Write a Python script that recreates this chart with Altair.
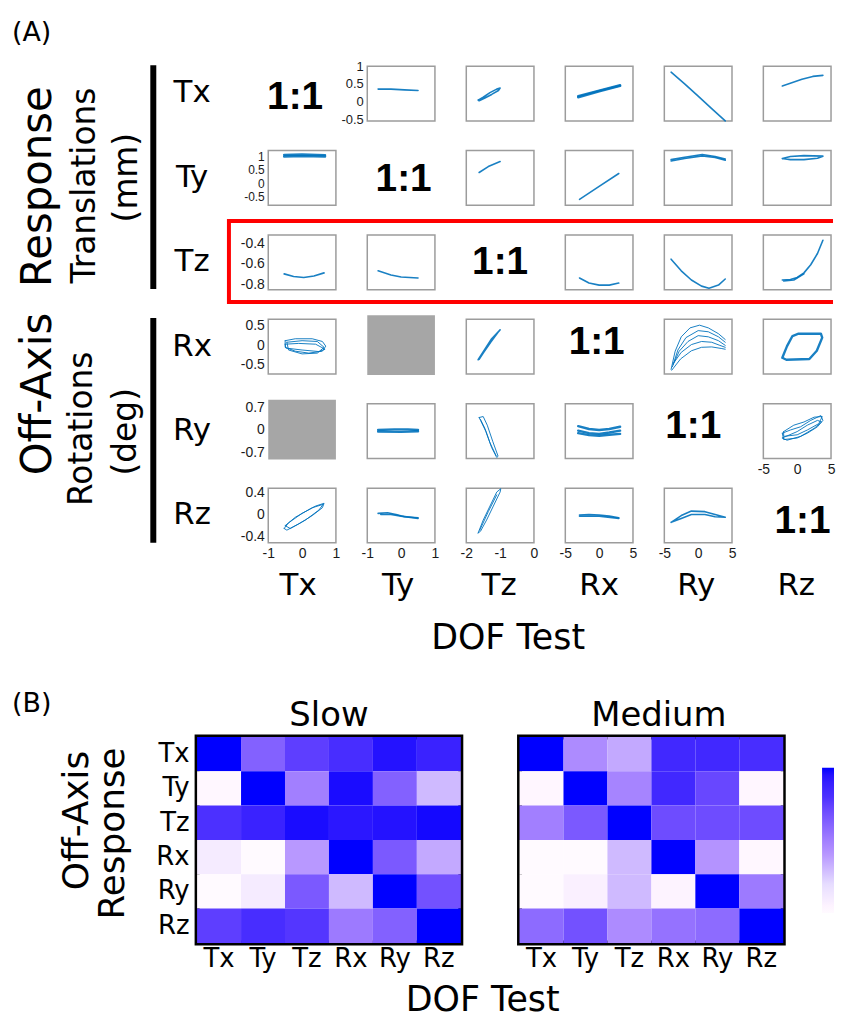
import altair as alt
import pandas as pd

# ---------------- data ----------------
DOFS = ["Tx", "Ty", "Tz", "Rx", "Ry", "Rz"]

X_DOMAINS = {"Tx": [-1, 1], "Ty": [-1, 1], "Tz": [-2, 0], "Rx": [-5, 5], "Ry": [-5, 5], "Rz": [-5, 5]}
X_TICKS = {"Tx": [-1, 0, 1], "Ty": [-1, 0, 1], "Tz": [-2, -1, 0], "Rx": [-5, 0, 5], "Ry": [-5, 0, 5], "Rz": [-5, 0, 5]}
Y_DOMAINS = {"Tx": [-0.55, 1.0], "Ty": [-0.83, 1.22], "Tz": [-0.855, -0.318],
             "Rx": [-0.74, 0.67], "Ry": [-0.89, 0.82], "Rz": [-0.507, 0.47]}
Y_TICKS = {"Tx": [-0.5, 0, 0.5, 1], "Ty": [-0.5, 0, 0.5, 1], "Tz": [-0.8, -0.6, -0.4],
           "Rx": [-0.5, 0, 0.5], "Ry": [-0.7, 0, 0.7], "Rz": [-0.4, 0, 0.4]}

# off-axis response traces (x = DOF test input, y = off-axis response); one list per trace
TX_TY = [[(-0.68, 0.35), (-0.3, 0.35), (0.1, 0.33), (0.5, 0.31)]]
TX_TZ = [[(-1.65, 0.04), (-1.5, 0.12), (-1.3, 0.25), (-1.1, 0.35), (-1.0, 0.38), (-1.05, 0.31),
          (-1.25, 0.2), (-1.45, 0.1), (-1.62, 0.02), (-1.65, 0.04)]]
TX_RX = [[(-3.1, 0.15), (0.0, 0.31), (3.1, 0.46)], [(-3.1, 0.12), (0.0, 0.29), (3.1, 0.44)]]
TX_RY = [[(-4.0, 0.83), (-2.0, 0.5), (0.0, 0.15), (2.0, -0.2), (4.0, -0.55)]]
TX_RZ = [[(-2.2, 0.44), (-0.8, 0.53), (0.7, 0.63), (2.3, 0.71), (3.8, 0.74)]]

TY_TX = [[(-0.53, 1.0), (0.0, 1.01), (0.68, 1.0)], [(-0.53, 1.06), (0.0, 1.07), (0.68, 1.05)]]
TY_TZ = [[(-1.62, 0.40), (-1.35, 0.62), (-1.0, 0.81)]]
TY_RX = [[(-2.9, -0.61), (0.0, -0.12), (2.9, 0.36)]]
TY_RY = [[(-4.0, 0.88), (-2.0, 0.97), (0.6, 1.07), (2.5, 1.0), (4.0, 0.9)],
         [(-4.0, 0.83), (-2.0, 0.92), (0.6, 1.02), (2.5, 0.96), (4.0, 0.86)]]
TY_RZ = [[(-2.2, 0.92), (-1.0, 1.0), (1.0, 1.03), (3.8, 1.01), (3.0, 0.93), (1.0, 0.88),
          (-1.0, 0.88), (-2.2, 0.92)]]

TZ_TX = [[(-0.53, -0.70), (-0.25, -0.725), (0.05, -0.735), (0.35, -0.72), (0.65, -0.69)]]
TZ_TY = [[(-0.68, -0.67), (-0.3, -0.71), (0.0, -0.73), (0.5, -0.74)]]
TZ_RX = [[(-2.9, -0.74), (-1.5, -0.79), (0.0, -0.81), (1.5, -0.81), (2.9, -0.79)]]
TZ_RY = [[(-4.0, -0.556), (-2.5, -0.67), (-1.0, -0.76), (0.5, -0.82), (1.6, -0.84), (3.0, -0.81), (4.0, -0.75)]]
TZ_RZ = [[(-2.2, -0.76), (-1.0, -0.755), (0.0, -0.735), (1.0, -0.69), (2.0, -0.61), (3.0, -0.5), (3.8, -0.37)],
         [(-2.0, -0.77), (-0.5, -0.76), (1.0, -0.70)]]

RX_TX = [[(-0.5, 0.12), (-0.2, 0.17), (0.3, 0.17), (0.6, 0.1), (0.7, -0.02), (0.6, -0.15), (0.2, -0.2),
          (-0.2, -0.15), (-0.5, -0.05), (-0.5, 0.12)],
         [(-0.45, 0.08), (0.0, 0.12), (0.45, 0.1), (0.65, -0.05), (0.45, -0.2), (0.0, -0.22), (-0.4, -0.12),
          (-0.45, 0.08)],
         [(-0.5, 0.03), (-0.1, 0.05), (0.4, 0.03), (0.68, -0.1), (0.5, -0.16), (0.0, -0.12), (-0.48, -0.07),
          (-0.5, 0.03)]]
RX_TZ = [[(-1.65, -0.37), (-1.45, -0.1), (-1.25, 0.17), (-1.0, 0.40), (-1.04, 0.36), (-1.28, 0.08),
          (-1.5, -0.2), (-1.62, -0.36), (-1.65, -0.37)]]
RX_RY = [[(-4.0, -0.62), (-3.4, -0.15), (-2.5, 0.22), (-1.2, 0.45), (0.2, 0.52), (1.5, 0.45), (3.0, 0.3), (4.0, 0.15)],
         [(-3.8, -0.55), (-3.0, -0.12), (-1.8, 0.2), (0.0, 0.38), (1.5, 0.35), (3.0, 0.22), (4.0, 0.08)],
         [(-3.7, -0.5), (-2.8, -0.15), (-1.5, 0.1), (0.0, 0.25), (1.5, 0.22), (3.0, 0.12), (4.0, 0.0)],
         [(-3.6, -0.45), (-2.5, -0.18), (-1.0, 0.02), (0.5, 0.1), (2.0, 0.08), (3.2, 0.0), (4.0, -0.05)],
         [(-3.9, -0.64), (-2.6, -0.35), (-1.0, -0.14), (0.5, -0.05), (2.0, -0.04), (3.4, -0.08), (4.0, -0.1)]]
RX_RZ = [[(-2.2, -0.32), (-1.5, -0.02), (-0.7, 0.24), (0.2, 0.3), (3.5, 0.3), (3.7, 0.2), (2.9, -0.14),
          (1.8, -0.35), (-1.6, -0.37), (-2.2, -0.32)]]

RY_TY = [[(-0.68, 0.0), (-0.2, 0.02), (0.2, 0.02), (0.5, 0.0)], [(-0.68, -0.05), (0.0, -0.06), (0.5, -0.04)]]
RY_TZ = [[(-1.62, 0.39), (-1.5, 0.42), (-1.38, 0.15), (-1.22, -0.35), (-1.06, -0.82), (-1.1, -0.86),
          (-1.25, -0.55), (-1.42, -0.05), (-1.58, 0.3), (-1.62, 0.39)],
         [(-1.58, 0.33), (-1.45, 0.05), (-1.3, -0.4), (-1.12, -0.8)]]
RY_RX = [[(-3.1, 0.12), (-1.5, 0.03), (0.0, 0.0), (1.5, 0.03), (3.1, 0.1)],
         [(-3.1, -0.02), (-1.5, -0.1), (0.0, -0.12), (1.5, -0.08), (3.1, -0.02)],
         [(-3.1, -0.1), (-1.5, -0.16), (0.0, -0.18), (1.5, -0.15), (3.1, -0.12)]]
RY_RZ = [[(-2.2, -0.1), (-1.0, 0.0), (0.5, 0.1), (2.0, 0.3), (3.5, 0.45), (3.8, 0.3), (3.0, 0.1), (1.5, -0.1),
          (0.0, -0.25), (-2.0, -0.3), (-2.2, -0.1)],
         [(-2.0, -0.05), (-0.5, 0.15), (1.0, 0.25), (2.5, 0.4), (3.7, 0.42), (3.2, 0.2), (1.5, 0.0), (0.0, -0.15),
          (-2.0, -0.2), (-2.0, -0.05)],
         [(-2.2, -0.25), (0.0, -0.05), (1.5, 0.15), (3.0, 0.3), (3.6, 0.25), (2.5, 0.05), (0.5, -0.2),
          (-1.5, -0.32), (-2.2, -0.25)]]

RZ_TX = [[(-0.53, -0.25), (-0.4, -0.15), (0.0, 0.02), (0.4, 0.15), (0.65, 0.2), (0.6, 0.12), (0.3, -0.02),
          (-0.1, -0.17), (-0.45, -0.28), (-0.53, -0.25)],
         [(-0.5, -0.2), (-0.2, -0.05), (0.3, 0.12), (0.62, 0.18), (0.5, 0.08), (0.1, -0.1), (-0.35, -0.25),
          (-0.5, -0.2)]]
RZ_TY = [[(-0.68, 0.02), (-0.4, 0.03), (-0.15, 0.0), (0.1, -0.04), (0.5, -0.06)],
         [(-0.6, 0.0), (-0.3, 0.0), (0.0, -0.03), (0.5, -0.07)]]
RZ_TZ = [[(-1.65, -0.33), (-1.5, -0.1), (-1.3, 0.15), (-1.1, 0.4), (-0.98, 0.46), (-1.0, 0.4), (-1.2, 0.15),
          (-1.4, -0.1), (-1.58, -0.3), (-1.65, -0.33)],
         [(-1.6, -0.28), (-1.35, 0.05), (-1.1, 0.35)]]
RZ_RX = [[(-2.9, -0.01), (-1.5, 0.0), (0.0, -0.01), (1.5, -0.03), (2.9, -0.06)],
         [(-2.9, -0.03), (0.0, -0.03), (2.9, -0.07)]]
RZ_RY = [[(-4.0, -0.14), (-2.5, -0.02), (-1.0, 0.06), (1.0, 0.05), (2.5, 0.0), (4.0, -0.05), (2.5, -0.04),
          (1.0, 0.0), (-1.0, 0.0), (-2.5, -0.07), (-4.0, -0.14)]]

CURVES = {
    ("Tx", "Ty"): TX_TY, ("Tx", "Tz"): TX_TZ, ("Tx", "Rx"): TX_RX, ("Tx", "Ry"): TX_RY, ("Tx", "Rz"): TX_RZ,
    ("Ty", "Tx"): TY_TX, ("Ty", "Tz"): TY_TZ, ("Ty", "Rx"): TY_RX, ("Ty", "Ry"): TY_RY, ("Ty", "Rz"): TY_RZ,
    ("Tz", "Tx"): TZ_TX, ("Tz", "Ty"): TZ_TY, ("Tz", "Rx"): TZ_RX, ("Tz", "Ry"): TZ_RY, ("Tz", "Rz"): TZ_RZ,
    ("Rx", "Tx"): RX_TX, ("Rx", "Tz"): RX_TZ, ("Rx", "Ry"): RX_RY, ("Rx", "Rz"): RX_RZ,
    ("Ry", "Ty"): RY_TY, ("Ry", "Tz"): RY_TZ, ("Ry", "Rx"): RY_RX, ("Ry", "Rz"): RY_RZ,
    ("Rz", "Tx"): RZ_TX, ("Rz", "Ty"): RZ_TY, ("Rz", "Tz"): RZ_TZ, ("Rz", "Rx"): RZ_RX, ("Rz", "Ry"): RZ_RY,
}
NO_DATA = [("Rx", "Ty"), ("Ry", "Tx")]
DIAG_TEXT = "1:1"

# heatmaps (normalised off-axis response, 0..1)
SLOW = [
    [1.00, 0.62, 0.75, 0.82, 0.95, 0.88],
    [0.02, 1.00, 0.50, 0.97, 0.62, 0.30],
    [0.80, 0.88, 0.97, 0.93, 0.95, 0.98],
    [0.10, 0.00, 0.40, 1.00, 0.65, 0.35],
    [0.00, 0.10, 0.65, 0.30, 1.00, 0.68],
    [0.75, 0.82, 0.78, 0.52, 0.62, 1.00],
]
MEDIUM = [
    [1.00, 0.45, 0.35, 0.85, 0.85, 0.82],
    [0.03, 1.00, 0.48, 0.85, 0.72, 0.03],
    [0.50, 0.65, 1.00, 0.70, 0.70, 0.70],
    [0.00, 0.00, 0.30, 1.00, 0.42, 0.02],
    [0.00, 0.07, 0.30, 0.05, 1.00, 0.52],
    [0.58, 0.68, 0.45, 0.55, 0.58, 1.00],
]
CB_STOPS = [0, 0.2, 0.4, 0.6, 0.8, 1.0]

# ---------------- style / layout ----------------
FONT = "DejaVu Sans"
LINE_BLUE = "#0072BD"
CB_COLORS = ["#ffffff", "#e6dcff", "#b898ff", "#8866ff", "#4c30ff", "#0000ff"]
THIN = {("Rx", "Tx"), ("Rx", "Ry"), ("Ry", "Rz"), ("Rz", "Tx"), ("Rz", "Tz"), ("Ry", "Tz")}
THICK = {("Ty", "Tx"), ("Ry", "Rx"), ("Ry", "Ty"), ("Tx", "Rx"), ("Rx", "Rz")}
TICK_SIZE = {"Tx": 13, "Ty": 12, "Tz": 14, "Rx": 14, "Ry": 14, "Rz": 14}
PW, PH = 68, 55
W0 = 39.5            # width of the row-label column (its left edge lines up with the heatmap's left edge)
ONE_DX = [-7, 2.5, 0, -2.5, -5, 6.5]
ONE_DY = [3.5, 1, 0, -5, -4.7, 5.5]
COL_DX = [-4, -3, -1, 0, -2, -1]
NOSTROKE = alt.ViewBackground(stroke="transparent")
BOX = alt.ViewBackground(stroke="#9c9c9c", strokeWidth=1.5)


def txt(s, x, y, size, angle=0, weight="normal", font=FONT, align="center", baseline="middle", color="black"):
    return alt.Chart(pd.DataFrame({"t": [s]})).mark_text(
        fontSize=size, angle=angle, fontWeight=weight, font=font, align=align,
        baseline=baseline, color=color).encode(x=alt.value(x), y=alt.value(y), text="t:N")


def rule(x1, y1, x2, y2, width, color, opacity=1.0):
    return alt.Chart(pd.DataFrame({"k": [0]})).mark_rule(
        strokeWidth=width, color=color, strokeCap="butt", opacity=opacity).encode(
        x=alt.value(x1), y=alt.value(y1), x2=alt.value(x2), y2=alt.value(y2))


def anchor(x, y):
    # invisible 1px mark that fixes the outer edge of the layout
    return rule(x + 0.5, y + 0.5, x + 0.5, y + 0.5, 1, "white", 0)


def axis(show, values, orient, size=14):
    if show:
        return alt.Axis(values=values, labelExpr="datum.value + ''", ticks=False, domain=False, grid=False,
                        labelFont="Liberation Sans", labelFontSize=size, labelColor="#1a1a1a",
                        labelPadding=4, labelOverlap=False, labelFlush=False,
                        labelBound=False, title="", orient=orient)
    return alt.Axis(labels=False, ticks=False, domain=False, grid=False, title="", orient=orient)


def scales(r, c):
    rn, cn = DOFS[r], DOFS[c]
    first = 1 if r == 0 else 0
    show_y = c == first
    show_x = (r == 5) or (r == 4 and c == 5)
    X = alt.X("x:Q", scale=alt.Scale(domain=X_DOMAINS[cn], nice=False, zero=False),
              axis=axis(show_x, X_TICKS[cn], "bottom"))
    Y = alt.Y("y:Q", scale=alt.Scale(domain=Y_DOMAINS[rn], nice=False, zero=False),
              axis=axis(show_y, Y_TICKS[rn], "left", TICK_SIZE[rn]))
    return X, Y


def col_label_layers(r, c):
    out = []
    if r == 5:
        out.append(txt(DOFS[c], PW / 2 + COL_DX[c], 98, 31))
        if c == 2:
            out.append(txt("DOF Test", 42, 151, 35))
    return out


def data_cell(r, c):
    key = (DOFS[r], DOFS[c])
    paths = CURVES[key]
    rows = [{"x": x, "y": y, "g": gi, "o": oi} for gi, p in enumerate(paths) for oi, (x, y) in enumerate(p)]
    sw = 1.0 if key in THIN else (2.4 if key in THICK else 1.6)
    X, Y = scales(r, c)
    line = alt.Chart(pd.DataFrame(rows)).mark_line(
        color=LINE_BLUE, strokeWidth=sw, opacity=0.9, strokeJoin="round", strokeCap="round"
    ).encode(x=X, y=Y, detail="g:N", order="o:Q")
    return alt.layer(line, *col_label_layers(r, c)).properties(width=PW, height=PH, view=BOX)


def gray_cell(r, c):
    X, Y = scales(r, c)
    empty = alt.Chart(pd.DataFrame({"x": [], "y": []})).mark_point(opacity=0).encode(x=X, y=Y)
    sq = alt.Chart(pd.DataFrame({"k": [0]})).mark_rect(color="#a6a6a6").encode(
        x=alt.value(0), x2=alt.value(PW), y=alt.value(-4), y2=alt.value(PH + 1))
    return alt.layer(sq, empty, *col_label_layers(r, c)).properties(width=PW, height=PH, view=NOSTROKE)


def diag_cell(r):
    if r == 5:   # right-aligned so the label stays inside the page
        t = txt(DIAG_TEXT, 67.5, PH / 2 + ONE_DY[r], 39, weight="bold", font="Liberation Sans", align="right")
    else:
        t = txt(DIAG_TEXT, PW / 2 + ONE_DX[r], PH / 2 + ONE_DY[r], 39, weight="bold", font="Liberation Sans")
    return alt.layer(t, *col_label_layers(r, r)).properties(width=PW, height=PH, view=NOSTROKE)


def label_cell(r):
    layers = [txt(DOFS[r], -5, 27.5, 31)]
    if r == 0:
        layers += [anchor(-188, -56),
                   txt("(A)", -186, -46.5, 27, align="left", baseline="top"),
                   rule(-44, -1, -44, 224, 6, "black"),
                   txt("Response", -160, 121, 42, angle=270),
                   txt("Off-Axis", -160, 329.5, 42, angle=270),
                   txt("Translations", -113, 120, 33, angle=270),
                   txt("(mm)", -70, 112, 33, angle=270)]
    if r == 2:
        layers += [rule(32, -14, 639, -14, 4, "#ff0000"),
                   rule(32, 67.4, 639, 67.4, 4, "#ff0000"),
                   rule(32, -16, 32, 69.4, 4, "#ff0000")]
    if r == 3:
        layers += [rule(-44, -1.4, -44, 224.6, 6, "black"),
                   txt("Rotations", -116, 110, 33, angle=270),
                   txt("(deg)", -71, 113, 33, angle=270)]
    if r == 5:
        layers.append(anchor(-188, 175))
    return alt.layer(*layers).properties(width=W0, height=PH, view=NOSTROKE)


cells = []
for r in range(6):
    cells.append(label_cell(r))
    for c in range(6):
        if r == c:
            cells.append(diag_cell(r))
        elif (DOFS[r], DOFS[c]) in NO_DATA:
            cells.append(gray_cell(r, c))
        else:
            cells.append(data_cell(r, c))

part_a = alt.concat(*cells, columns=7, spacing={"row": 29.8, "column": 31.5}, bounds="flush")

# ---------------- part B ----------------
LEGEND = alt.Legend(orient="none", legendX=628, legendY=705, direction="vertical", gradientLength=146,
                    gradientThickness=12, labelExpr="''", labelOffset=0, padding=0,
                    gradientStrokeWidth=0, title="")


def heat(vals, show_y, extra):
    df = pd.DataFrame([{"test": DOFS[c], "resp": DOFS[r], "v": vals[r][c]} for r in range(6) for c in range(6)])
    lab = dict(ticks=False, domain=False, grid=False, labelFont=FONT, labelFontSize=26, labelColor="black",
               title="", labelAngle=0)
    rect = alt.Chart(df).mark_rect().encode(
        x=alt.X("test:N", sort=DOFS, axis=alt.Axis(labelPadding=3, **lab)),
        y=alt.Y("resp:N", sort=DOFS, axis=alt.Axis(labels=show_y, labelPadding=8, **lab)),
        color=alt.Color("v:Q", scale=alt.Scale(domain=CB_STOPS, range=CB_COLORS), legend=LEGEND, title=""),
    )
    return alt.layer(rect, *extra).properties(
        width=265, height=207, view=alt.ViewBackground(stroke="black", strokeWidth=5))


slow = heat(SLOW, True, [
    anchor(-188, -51),
    txt("Slow", 132.5, -11, 34, baseline="alphabetic"),
    txt("(B)", -186, -46, 27, align="left", baseline="top"),
    txt("Off-Axis", -121, 84, 36, angle=270),
    txt("Response", -84, 97, 36, angle=270),
    txt("DOF Test", 287, 264, 35),
])
medium = heat(MEDIUM, False, [txt("Medium", 140, -11, 34, baseline="alphabetic")])

part_b = alt.hconcat(slow, medium, spacing=59, bounds="flush")

chart = alt.vconcat(part_a, part_b, spacing=21).properties(
    padding={"left": 0, "top": 0, "right": 0, "bottom": 0}
).configure(font=FONT).configure_view(stroke="transparent")

chart.save("out.html", embed_options={"renderer": "svg", "actions": False})
